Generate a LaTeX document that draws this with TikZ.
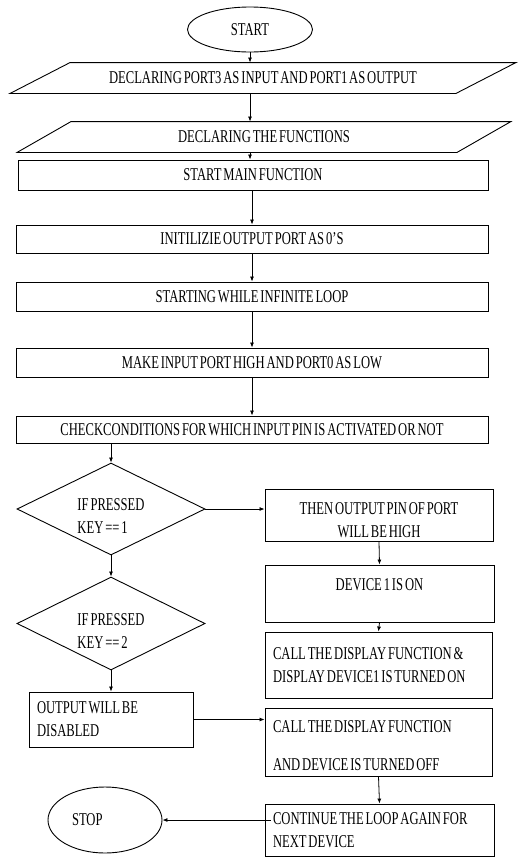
\documentclass[tikz,border=0pt]{standalone}
\usepackage{fontspec}
\setmainfont{Liberation Serif}[FakeStretch=0.7, WordSpace=0.6]
\usetikzlibrary{arrows.meta,shapes.geometric}

\begin{document}
\begin{tikzpicture}[x=1pt, y=-1pt,
  every node/.style={font=\fontsize{18}{23}\selectfont, line width=0.9pt, inner sep=3pt},
  terminal/.style={draw, ellipse, inner sep=0pt},
  iotext/.style={rectangle, minimum height=30pt, inner sep=0pt},
  iobox/.style={line width=0.9pt},
  procbox/.style 2 args={draw, rectangle, minimum width=#1, minimum height=#2},
  notebox/.style 2 args={draw, rectangle, minimum width=#1, minimum height=#2,
    text width=#1-16pt, align=flush left, inner sep=0pt},
  decision/.style={draw, diamond, aspect=2, minimum width=188pt, minimum height=92pt, align=flush left},
  arrow/.style={-{Latex[length=5pt,width=4pt]}, line width=0.8pt}]
  \useasboundingbox (0,0) rectangle (518,857);

  % main column
  \node[terminal, minimum width=125pt, minimum height=45pt] (start) at (250,29.5) {START};
  \node[iotext, minimum width=445pt] (ports) at (263,78) {DECLARING PORT3 AS INPUT AND PORT1 AS OUTPUT};
  \draw[iobox] ([xshift=-30pt]ports.south west) -- ([xshift=30pt]ports.north west)
    -- ([xshift=30pt]ports.north east) -- ([xshift=-30pt]ports.south east) -- cycle;
  \node[iotext, minimum width=439pt] (funcs) at (264,137) {DECLARING THE FUNCTIONS};
  \draw[iobox] ([xshift=-27pt]funcs.south west) -- ([xshift=27pt]funcs.north west)
    -- ([xshift=27pt]funcs.north east) -- ([xshift=-27pt]funcs.south east) -- cycle;
  \node[procbox={470pt}{30pt}] (mainfn) at (253,175) {START MAIN FUNCTION};
  \node[procbox={472pt}{28pt}] (init) at (252,239) {INITILIZIE OUTPUT PORT AS 0’S};
  \node[procbox={472pt}{29pt}] (loop) at (252,296.5) {STARTING WHILE INFINITE LOOP};
  \node[procbox={472pt}{29pt}] (setport) at (252,362.5) {MAKE INPUT PORT HIGH AND PORT0 AS LOW};
  \node[procbox={472pt}{27pt}] (check) at (252,429.5) {CHECKCONDITIONS FOR WHICH INPUT PIN IS ACTIVATED OR NOT};

  % key tests
  \node[decision] (key1) at (111,509) {\rule{0pt}{26pt}IF PRESSED\\KEY == 1};
  \node[decision, minimum height=93pt] (key2) at (111,623.5) {\rule{0pt}{26pt}IF PRESSED\\KEY == 2};
  \node[notebox={164pt}{55pt}] (disable) at (111,719.5) {OUTPUT WILL BE\\DISABLED};
  \node[terminal, minimum width=114pt, minimum height=66pt] (stop) at (105,820) {\makebox[66pt][l]{STOP}};

  % right column
  \node[procbox={228pt}{49pt}, align=center] (pinhigh) at (379,515.5) {\rule{0pt}{22pt}THEN OUTPUT PIN OF PORT\\WILL BE HIGH};
  \node[procbox={229pt}{57pt}] (devon) at (379.5,593.5) {DEVICE 1 IS ON\rule[-17pt]{0pt}{17pt}};
  \node[notebox={227pt}{66pt}] (showon) at (378.5,665) {CALL THE DISPLAY FUNCTION \&\\DISPLAY DEVICE1 IS TURNED ON};
  \node[notebox={227pt}{68pt}] (showoff) at (378.5,742) {\rule{0pt}{20pt}CALL THE DISPLAY FUNCTION\\[15pt]AND DEVICE IS TURNED OFF};
  \node[notebox={229pt}{52pt}] (next) at (379.5,830) {CONTINUE THE LOOP AGAIN FOR\\NEXT DEVICE};

  \draw[arrow] (start.south) -- (start.south |- ports.north);
  \draw[arrow] (start.south |- ports.south) -- (start.south |- funcs.north);
  \draw[arrow] (start.south |- funcs.south) -- (start.south |- mainfn.north);
  \draw[arrow] (init |- mainfn.south) -- (init.north);
  \draw[arrow] (init.south) -- (loop.north);
  \draw[arrow] (loop.south) -- (setport.north);
  \draw[arrow] (setport.south) -- (check.north);
  \draw[arrow] (key1 |- check.south) -- (key1.north);
  \draw[arrow] (key1.east) -- (key1.east -| pinhigh.west);
  \draw[arrow] (pinhigh.south) -- (devon.north);
  \draw[arrow] (devon.south) -- (showon.north);
  \draw[arrow] (key1.south) -- (key2.north);
  \draw[arrow] (key2.south) -- (disable.north);
  \draw[arrow] (disable.east) -- (disable.east -| showoff.west);
  \draw[arrow] (showoff.south) -- (next.north);
  \draw[arrow] ([xshift=6pt]next.west |- stop.east) -- (stop.east);
\end{tikzpicture}
\end{document}
